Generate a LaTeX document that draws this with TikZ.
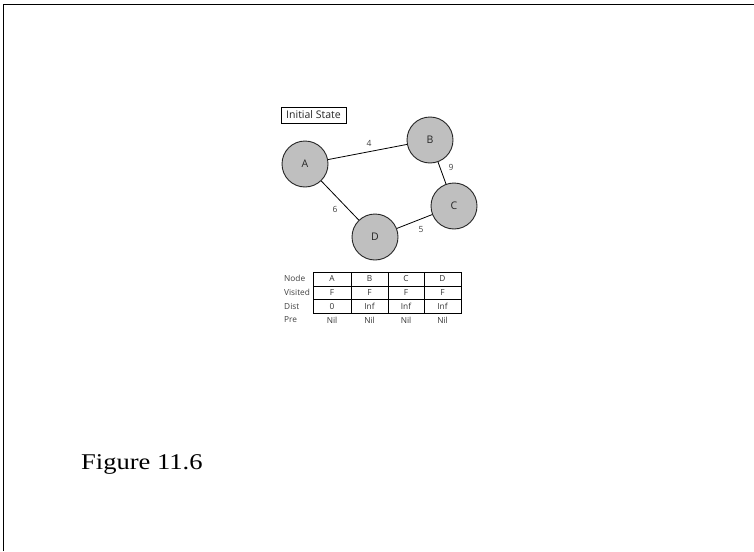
\documentclass[tikz,border=0pt]{standalone}
\usepackage{fontspec}
\setmainfont{Liberation Serif}[FakeStretch=1.18]
\newfontfamily\uifont{Open Sans}
\definecolor{nodegray}{RGB}{191,191,191}
\begin{document}
\begin{tikzpicture}[x=1pt,y=-1pt,
  vertex/.style={circle,draw=black!85,fill=nodegray,line width=0.9pt,minimum size=46pt,inner sep=0pt,font=\uifont\fontsize{10.5}{11}\selectfont,text=black!85},
  edge/.style={draw=black,line width=0.8pt},
  wlabel/.style={font=\uifont\fontsize{8.5}{9}\selectfont,text=black!75},
  tabline/.style={draw=black,line width=0.6pt},
  plain/.style={inner sep=0pt,font=\uifont\fontsize{8.3}{9}\selectfont,text=black!80},
  rowlab/.style={anchor=west,inner sep=0pt,font=\uifont\fontsize{8.3}{9}\selectfont,text=black!75}]
\useasboundingbox (0,0) rectangle (754,551);
\fill[white] (0,0) rectangle (754,551);
\draw[line width=1.5pt] (3.5,551) -- (3.5,4.5) -- (754,4.5);
% title box
\node[draw=black,line width=0.6pt,minimum width=65pt,minimum height=16pt,inner sep=0pt,font=\uifont\fontsize{10.5}{11}\selectfont,text=black!85] (title) at (313.5,115) {Initial State};
% vertices
\node[vertex] (A) at (305,164) {A};
\node[vertex] (B) at (430,140) {B};
\node[vertex] (C) at (454,206) {C};
\node[vertex] (D) at (375,237) {D};
\draw[edge] (A) -- (B);
\draw[edge] (B) -- (C);
\draw[edge] (A) -- (D);
\draw[edge] (D) -- (C);
\node[wlabel] (w4) at (369,143) {4};
\node[wlabel] (w9) at (451,167) {9};
\node[wlabel] (w6) at (335,209) {6};
\node[wlabel] (w5) at (421,230) {5};
% table grid
\coordinate (tl) at (313,272);
\coordinate (br) at (461,313);
\draw[tabline] (tl) rectangle (br);
\draw[tabline] (351,272) -- (351,313);
\draw[tabline] (388,272) -- (388,313);
\draw[tabline] (424,272) -- (424,313);
\draw[tabline] (313,286) -- (461,286);
\draw[tabline] (313,299.5) -- (461,299.5);
% row labels
\node[rowlab] (rNode) at (284,278.5) {Node};
\node[rowlab] (rVis) at (284,292.5) {Visited};
\node[rowlab] (rDist) at (284,306) {Dist};
\node[rowlab] (rPre) at (284,320) {Pre};
% cells
\node[plain] (a1) at (332,279) {A};
\node[plain] (b1) at (369.5,279) {B};
\node[plain] (c1) at (406,279) {C};
\node[plain] (d1) at (442.5,279) {D};
\node[plain] (a2) at (332,292.7) {F};
\node[plain] (b2) at (369.5,292.7) {F};
\node[plain] (c2) at (406,292.7) {F};
\node[plain] (d2) at (442.5,292.7) {F};
\node[plain] (a3) at (332,306.2) {0};
\node[plain] (b3) at (369.5,306.2) {Inf};
\node[plain] (c3) at (406,306.2) {Inf};
\node[plain] (d3) at (442.5,306.2) {Inf};
\node[plain] (a4) at (332,320) {Nil};
\node[plain] (b4) at (369.5,320) {Nil};
\node[plain] (c4) at (406,320) {Nil};
\node[plain] (d4) at (442.5,320) {Nil};
% caption
\node[anchor=base west,inner sep=0pt,font=\fontsize{22.5}{24}\selectfont] (cap) at (81,469.5) {Figure 11.6};
\end{tikzpicture}
\end{document}
